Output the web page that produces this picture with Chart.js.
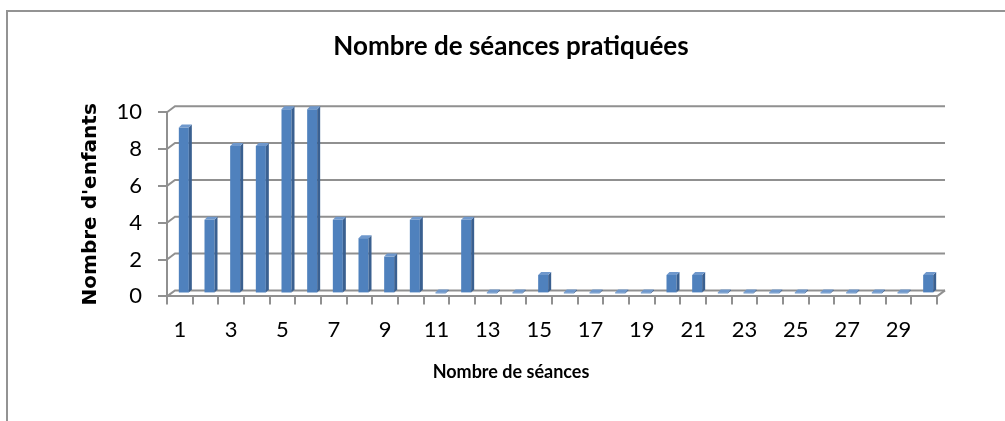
<!DOCTYPE html>
<html>
<head>
<meta charset="utf-8">
<script src="https://cdn.jsdelivr.net/npm/chart.js@4/dist/chart.umd.min.js"></script>
<style>
    html, body { margin: 0; padding: 0; background: #fff; overflow: hidden; }
    #frame { position: absolute; left: 6px; top: 10px; width: 1020px; height: 440px; border: 2px solid #939393; }
    #wrap { position: absolute; left: 0; top: 0; width: 1005px; height: 421px; }
</style>
</head>
<body>
<div id="frame"></div>
<div id="wrap"><canvas id="chart" width="1005" height="421"></canvas></div>
<script>
const sessions = Array.from({ length: 30 }, (_, i) => String(i + 1));
const children = [9, 4, 8, 8, 10, 10, 4, 3, 2, 4, 0, 4, 0, 0, 1, 0, 0, 0, 0, 1, 1, 0, 0, 0, 0, 0, 0, 0, 0, 1];
const yTicks = [0, 2, 4, 6, 8, 10];

const chartTitle = "Nombre de séances pratiquées";
const xTitle = "Nombre de séances";
const yTitle = "Nombre d'enfants";

const calibriLike = "Lato, 'Open Sans', sans-serif";
const gridGray = "#909090";

// excel-style 3d: back wall gridlines, floor edge, and shaded bar faces
const WALL_DX = 8;
const WALL_DY = 6;
const BAR_DEPTH = 3;

const depthPlugin = {
    id: "depth",
    beforeDatasetsDraw(chart) {
        const ctx = chart.ctx;
        const { left, right, bottom } = chart.chartArea;
        const y = chart.scales.y;
        ctx.save();
        ctx.strokeStyle = gridGray;
        ctx.lineWidth = 2;
        yTicks.forEach((v) => {
            const py = y.getPixelForValue(v);
            ctx.beginPath();
            ctx.moveTo(left, py);
            ctx.lineTo(left + WALL_DX, py - WALL_DY);
            ctx.lineTo(right + WALL_DX, py - WALL_DY);
            ctx.stroke();
        });
        // right end of the floor
        ctx.beginPath();
        ctx.moveTo(right, bottom);
        ctx.lineTo(right + WALL_DX, bottom - WALL_DY);
        ctx.stroke();
        ctx.restore();

        ctx.save();
        ctx.translate(WALL_DX / 2, -WALL_DY / 2);
    },
    afterDatasetsDraw(chart) {
        const ctx = chart.ctx;
        const d = BAR_DEPTH;
        chart.getDatasetMeta(0).data.forEach((bar) => {
            const half = bar.width / 2;
            const left = bar.x - half;
            const right = bar.x + half;
            let top = bar.y;
            const base = bar.base;
            if (base - top < 1) {
                top = base - 1;
                ctx.fillStyle = "#4f81bd";
                ctx.fillRect(left, top, right - left, 1);
            }
            ctx.fillStyle = "#3a6090";
            ctx.beginPath();
            ctx.moveTo(right, top);
            ctx.lineTo(right + d, top - d);
            ctx.lineTo(right + d, base - d);
            ctx.lineTo(right, base);
            ctx.closePath();
            ctx.fill();
            ctx.fillStyle = "#6f98cc";
            ctx.beginPath();
            ctx.moveTo(left, top);
            ctx.lineTo(left + d, top - d);
            ctx.lineTo(right + d, top - d);
            ctx.lineTo(right, top);
            ctx.closePath();
            ctx.fill();
        });
        ctx.restore();
    },
};

new Chart(document.getElementById("chart"), {
    type: "bar",
    data: {
        labels: sessions,
        datasets: [{
            data: children,
            backgroundColor: "#4f81bd",
            barPercentage: 0.39,
            categoryPercentage: 1,
            clip: false,
        }],
    },
    options: {
        responsive: false,
        animation: false,
        layout: { padding: { left: 17, right: 0, top: 0, bottom: 0 } },
        plugins: {
            legend: { display: false },
            tooltip: { enabled: false },
            title: {
                display: true,
                text: chartTitle,
                color: "#000",
                font: { family: calibriLike, size: 26, weight: "bold" },
                padding: { top: 31, bottom: 50 },
            },
            // axis title lives here so it centres on the whole chart like excel does
            subtitle: {
                display: true,
                position: "bottom",
                text: xTitle,
                color: "#000",
                font: { family: calibriLike, size: 18, weight: "bold" },
                padding: { top: 5, bottom: 38 },
            },
        },
        scales: {
            x: {
                offset: true,
                afterFit(scale) { scale.height = 60; },
                grid: {
                    drawOnChartArea: false,
                    drawTicks: true,
                    tickLength: 8,
                    color: gridGray,
                    lineWidth: 2,
                    offset: true,
                },
                border: { display: true, color: gridGray, width: 2 },
                ticks: {
                    autoSkip: false,
                    maxRotation: 0,
                    padding: 12,
                    color: "#000",
                    font: { family: calibriLike, size: 22 },
                    callback(value, index) {
                        return index % 2 === 0 ? sessions[index] : "";
                    },
                },
            },
            y: {
                min: yTicks[0],
                max: yTicks[yTicks.length - 1],
                afterFit(scale) { scale.width = 150; },
                afterBuildTicks(scale) { scale.ticks = yTicks.map((v) => ({ value: v })); },
                grid: {
                    drawOnChartArea: false,
                    color: gridGray,
                    lineWidth: 2,
                    tickLength: 9,
                },
                border: { display: true, color: gridGray, width: 2 },
                ticks: {
                    padding: 16,
                    color: "#000",
                    font: { family: calibriLike, size: 22 },
                },
                title: {
                    display: true,
                    text: yTitle,
                    color: "#000",
                    font: { family: "'DejaVu Sans', Verdana, sans-serif", size: 20, weight: "bold" },
                    padding: { top: 62, bottom: 0 },
                },
            },
            // empty right-hand axis, only reserves the margin right of the plot
            spacer: {
                type: "linear",
                position: "right",
                min: 0,
                max: 1,
                afterFit(scale) { scale.width = 68; },
                grid: { display: false },
                border: { display: false },
                ticks: { display: false },
            },
        },
    },
    plugins: [depthPlugin],
});
</script>
</body>
</html>
